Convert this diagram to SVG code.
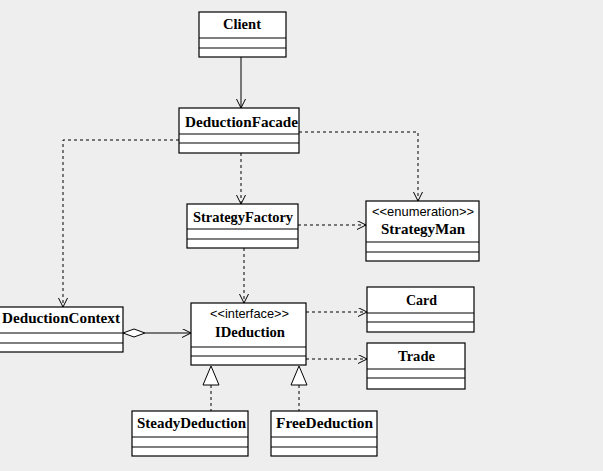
<svg xmlns="http://www.w3.org/2000/svg" width="603" height="471" viewBox="0 0 603 471">
<style>
.box{fill:#fff;stroke:#000;stroke-width:1.2}
.div{stroke:#000;stroke-width:1.2}
.name{font-family:"Liberation Serif","Times New Roman",serif;font-weight:bold;font-size:14px;fill:#000}
.st{font-family:"Liberation Sans",Arial,sans-serif;font-size:13px;fill:#000}
.c{fill:none;stroke:#000;stroke-width:1}
.d{fill:none;stroke:#000;stroke-width:1;stroke-dasharray:3,3}
</style>
<defs>
<marker id="open" markerWidth="10" markerHeight="10" refX="9" refY="4.5" orient="auto" markerUnits="userSpaceOnUse">
<path d="M0,0 L9,4.5 L0,9" fill="none" stroke="#000" stroke-width="1"/>
</marker>
</defs>
<rect width="603" height="471" fill="#eeeeee"/>
<g id="connectors">
<line class="c" x1="241" y1="57" x2="241" y2="108" marker-end="url(#open)"/>
<polyline class="d" points="179,140 63,140 63,307" marker-end="url(#open)"/>
<line class="d" x1="241" y1="153" x2="241" y2="204" marker-end="url(#open)"/>
<polyline class="d" points="299,132 418,132 418,201" marker-end="url(#open)"/>
<line class="d" x1="298" y1="225" x2="366" y2="225" marker-end="url(#open)"/>
<line class="d" x1="244" y1="248" x2="244" y2="303" marker-end="url(#open)"/>
<line class="c" x1="145" y1="333" x2="191" y2="333" marker-end="url(#open)"/>
<polygon points="123,333 134,329 145,333 134,337" fill="#fff" stroke="#000" stroke-width="1"/>
<line class="d" x1="306" y1="312" x2="367" y2="312" marker-end="url(#open)"/>
<line class="d" x1="306" y1="359" x2="367" y2="359" marker-end="url(#open)"/>
<line class="d" x1="211" y1="385" x2="211" y2="411"/>
<polygon points="211,366 203,385 219,385" fill="#fff" stroke="#000" stroke-width="1"/>
<line class="d" x1="299" y1="385" x2="299" y2="411"/>
<polygon points="299,366 291,385 307,385" fill="#fff" stroke="#000" stroke-width="1"/>
</g>
<g id="Client">
<rect class="box" x="199" y="12" width="87" height="45"/>
<line class="div" x1="199" y1="38" x2="286" y2="38"/>
<line class="div" x1="199" y1="48" x2="286" y2="48"/>
<text class="name" x="223" y="29" textLength="38" lengthAdjust="spacingAndGlyphs">Client</text>
</g>
<g id="DeductionFacade">
<rect class="box" x="179" y="108" width="120" height="45"/>
<line class="div" x1="179" y1="134" x2="299" y2="134"/>
<line class="div" x1="179" y1="143" x2="299" y2="143"/>
<text class="name" x="185" y="127" textLength="113" lengthAdjust="spacingAndGlyphs">DeductionFacade</text>
</g>
<g id="StrategyFactory">
<rect class="box" x="187" y="204" width="111" height="44"/>
<line class="div" x1="187" y1="229" x2="298" y2="229"/>
<line class="div" x1="187" y1="239" x2="298" y2="239"/>
<text class="name" x="193" y="222" textLength="100" lengthAdjust="spacingAndGlyphs">StrategyFactory</text>
</g>
<g id="StrategyMan">
<rect class="box" x="366" y="201" width="113" height="60"/>
<line class="div" x1="366" y1="242" x2="479" y2="242"/>
<line class="div" x1="366" y1="252" x2="479" y2="252"/>
<text class="st" x="372" y="216" textLength="102" lengthAdjust="spacingAndGlyphs">&lt;&lt;enumeration&gt;&gt;</text>
<text class="name" x="381" y="234" textLength="84" lengthAdjust="spacingAndGlyphs">StrategyMan</text>
</g>
<g id="DeductionContext">
<rect class="box" x="-1" y="307" width="124" height="45"/>
<line class="div" x1="-1" y1="333" x2="123" y2="333"/>
<line class="div" x1="-1" y1="343" x2="123" y2="343"/>
<text class="name" x="2" y="323" textLength="118" lengthAdjust="spacingAndGlyphs">DeductionContext</text>
</g>
<g id="IDeduction">
<rect class="box" x="191" y="303" width="115" height="62"/>
<line class="div" x1="191" y1="347" x2="306" y2="347"/>
<line class="div" x1="191" y1="356" x2="306" y2="356"/>
<text class="st" x="210" y="318" textLength="79" lengthAdjust="spacingAndGlyphs">&lt;&lt;interface&gt;&gt;</text>
<text class="name" x="215" y="337" textLength="70" lengthAdjust="spacingAndGlyphs">IDeduction</text>
</g>
<g id="Card">
<rect class="box" x="367" y="287" width="107" height="45"/>
<line class="div" x1="367" y1="313" x2="474" y2="313"/>
<line class="div" x1="367" y1="322" x2="474" y2="322"/>
<text class="name" x="406" y="305" textLength="31" lengthAdjust="spacingAndGlyphs">Card</text>
</g>
<g id="Trade">
<rect class="box" x="367" y="343" width="98" height="46"/>
<line class="div" x1="367" y1="369" x2="465" y2="369"/>
<line class="div" x1="367" y1="378" x2="465" y2="378"/>
<text class="name" x="398" y="361" textLength="37" lengthAdjust="spacingAndGlyphs">Trade</text>
</g>
<g id="SteadyDeduction">
<rect class="box" x="132" y="411" width="116" height="45"/>
<line class="div" x1="132" y1="437" x2="248" y2="437"/>
<line class="div" x1="132" y1="447" x2="248" y2="447"/>
<text class="name" x="137" y="428" textLength="109" lengthAdjust="spacingAndGlyphs">SteadyDeduction</text>
</g>
<g id="FreeDeduction">
<rect class="box" x="271" y="411" width="106" height="45"/>
<line class="div" x1="271" y1="437" x2="377" y2="437"/>
<line class="div" x1="271" y1="447" x2="377" y2="447"/>
<text class="name" x="276" y="428" textLength="97" lengthAdjust="spacingAndGlyphs">FreeDeduction</text>
</g>
</svg>
